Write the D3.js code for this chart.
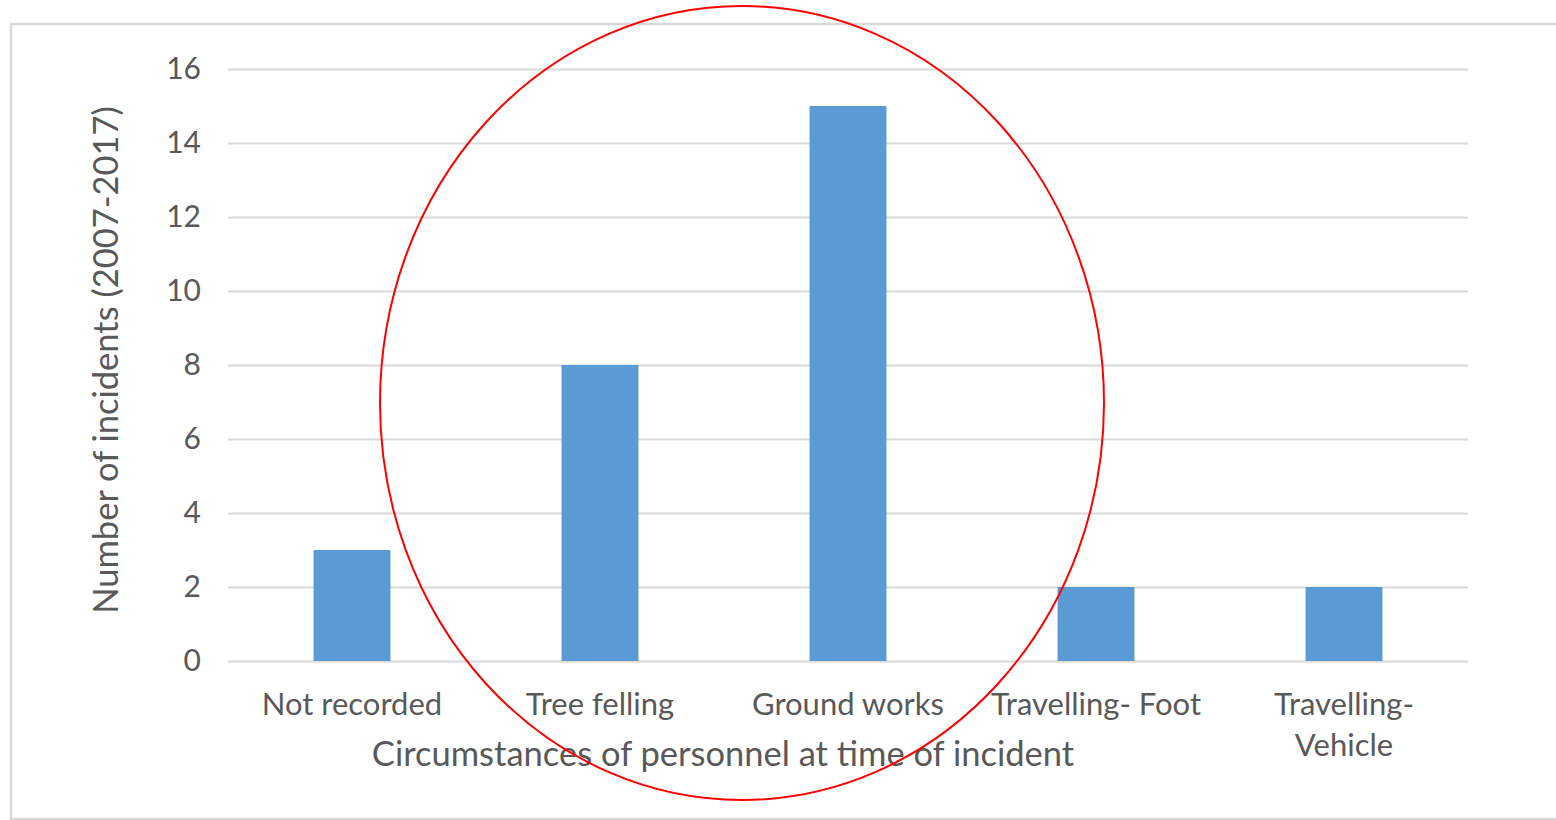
<!DOCTYPE html>
<html>
<head>
<meta charset="utf-8">
<script src="https://cdn.jsdelivr.net/npm/d3@7"></script>
<style>
  html, body { margin: 0; padding: 0; background: #fff; }
  svg { display: block; }
  text { font-family: Lato, "Open Sans", sans-serif; fill: #595959; }
</style>
</head>
<body>
<svg id="chart" width="1556" height="820"></svg>
<script>
// Incidents by circumstance of personnel, 2007-2017
const categories = [["Not recorded"], ["Tree felling"], ["Ground works"], ["Travelling- Foot"], ["Travelling-", "Vehicle"]];
const incidents = [3, 8, 15, 2, 2];
const yTicks = [0, 2, 4, 6, 8, 10, 12, 14, 16];
const yTitle = "Number of incidents (2007-2017)";
const xTitle = "Circumstances of personnel at time of incident";

const svg = d3.select("#chart");
const plot = { left: 228, right: 1468, top: 69, bottom: 661 };

// outer frame
svg.append("rect")
  .attr("x", 11).attr("y", 24)
  .attr("width", 1560).attr("height", 795)
  .attr("fill", "none")
  .attr("stroke", "#d9d9d9")
  .attr("stroke-width", 2.5);

const x = d3.scaleBand()
  .domain(d3.range(categories.length))
  .range([plot.left, plot.right])
  .paddingInner(0.69)
  .paddingOuter(0.345);

const y = d3.scaleLinear().domain([0, 16]).range([plot.bottom, plot.top]);

// gridlines + tick labels
const yAxis = d3.axisLeft(y).tickValues(yTicks).tickSize(-(plot.right - plot.left)).tickPadding(27);
const gy = svg.append("g").attr("transform", `translate(${plot.left},0)`).call(yAxis);
gy.select(".domain").remove();
gy.selectAll(".tick line").attr("stroke", "#d9d9d9").attr("stroke-width", 2.2);
gy.selectAll(".tick text")
  .attr("font-size", 30)
  .attr("fill", "#595959")
  .style("font-family", "Lato, 'Open Sans', sans-serif");

// bars
svg.append("g").selectAll("rect")
  .data(incidents)
  .join("rect")
  .attr("x", (d, i) => x(i))
  .attr("width", x.bandwidth())
  .attr("y", d => y(d))
  .attr("height", d => y(0) - y(d))
  .attr("fill", "#5b9bd5");

// category labels
const labels = svg.append("g").selectAll("text")
  .data(categories)
  .join("text")
  .attr("x", (d, i) => x(i) + x.bandwidth() / 2)
  .attr("y", 715)
  .attr("text-anchor", "middle")
  .attr("font-size", 31);
labels.selectAll("tspan")
  .data(d => d)
  .join("tspan")
  .attr("x", function () { return this.parentNode.getAttribute("x"); })
  .attr("dy", (d, j) => j === 0 ? 0 : 41)
  .text(d => d);

// axis titles
svg.append("text")
  .attr("x", 723).attr("y", 766)
  .attr("text-anchor", "middle")
  .attr("font-size", 34.5)
  .text(xTitle);

svg.append("text")
  .attr("transform", "translate(118,360) rotate(-90)")
  .attr("text-anchor", "middle")
  .attr("font-size", 34.5)
  .text(yTitle);

// red ellipse around the middle categories
svg.append("ellipse")
  .attr("cx", 742).attr("cy", 403)
  .attr("rx", 362).attr("ry", 397)
  .attr("fill", "none")
  .attr("stroke", "#ff0000")
  .attr("stroke-width", 2);
</script>
</body>
</html>
